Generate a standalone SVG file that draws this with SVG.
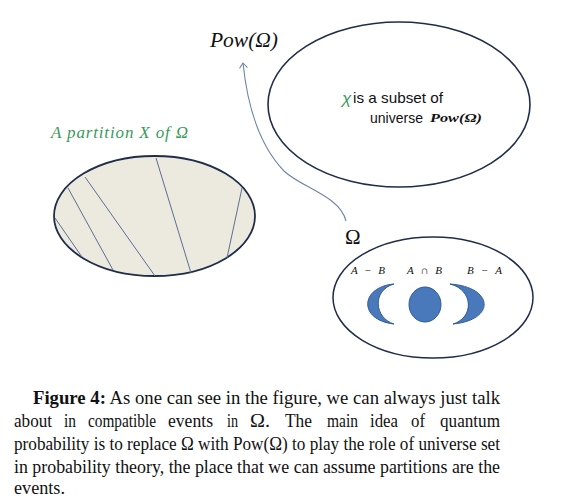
<svg xmlns="http://www.w3.org/2000/svg" width="584" height="500" viewBox="0 0 584 500">
<defs>
<style>
.ser{font-family:"Liberation Serif","Times New Roman",serif;fill:#111}
.sans{font-family:"Liberation Sans",Arial,sans-serif;fill:#111}
.green{fill:#3a9a5c}
.cap{font-family:"Liberation Serif","Times New Roman",serif;font-size:19px;fill:#111}
.part{stroke:#5b6f95;stroke-width:1;fill:none}
.blob{fill:#4a79bb;stroke:#2e5b9b;stroke-width:1}
</style>
<marker id="arr" markerWidth="10" markerHeight="10" refX="9" refY="5" orient="auto" markerUnits="userSpaceOnUse" viewBox="0 0 10 10">
<path d="M4,1 L9,5 L4,9" fill="none" stroke="#6d84a8" stroke-width="1"/>
</marker>
</defs>
<rect width="584" height="500" fill="#fff"/>

<g id="pow-label"><text class="ser" x="210" y="47" font-size="20" font-style="italic" textLength="68" lengthAdjust="spacingAndGlyphs">Pow(Ω)</text></g>

<g id="pow-ellipse">
<ellipse cx="399" cy="104.5" rx="131" ry="82.5" fill="#fff" stroke="#1f2d4a" stroke-width="1.6"/>
<text class="sans green" x="342" y="104" font-size="17" font-style="italic">χ</text>
<text class="sans" x="353" y="103" font-size="15" textLength="90" lengthAdjust="spacingAndGlyphs">is a subset of</text>
<text class="sans" x="370" y="123" font-size="15" textLength="53" lengthAdjust="spacingAndGlyphs">universe</text>
<text class="ser" x="430" y="122" font-size="11.5" font-style="italic" font-weight="bold" textLength="52" lengthAdjust="spacingAndGlyphs">Pow(Ω)</text>
</g>

<g id="partition">
<text class="ser green" x="51" y="138" font-size="17" font-style="italic" textLength="137" lengthAdjust="spacing">A partition X of Ω</text>
<ellipse cx="154.5" cy="216" rx="100.5" ry="60" fill="#ece9df" stroke="#1f2d4a" stroke-width="1.8"/>
<path class="part" d="M55,218 L82,257"/>
<path class="part" d="M68,188 L113,270"/>
<path class="part" d="M85,177 L155,276"/>
<path class="part" d="M156,158 L191,273"/>
<path class="part" d="M242,188 L227,258"/>
</g>

<g id="omega">
<text class="ser" x="345" y="244" font-size="21">Ω</text>
<ellipse cx="433" cy="297.5" rx="100" ry="60.5" fill="#fff" stroke="#1f2d4a" stroke-width="1.5"/>
<text class="ser" x="351" y="274" font-size="11" font-style="italic" textLength="34" lengthAdjust="spacing">A − B</text>
<text class="ser" x="407" y="274" font-size="11" font-style="italic" textLength="35" lengthAdjust="spacing">A ∩ B</text>
<text class="ser" x="467" y="274" font-size="11" font-style="italic" textLength="35" lengthAdjust="spacing">B − A</text>
<path class="blob" d="M394,284 C360,287 358,320 394,324 C374,318 372,290 394,284 Z"/>
<ellipse class="blob" cx="425" cy="304.5" rx="16" ry="17.5"/>
<path class="blob" d="M450,284 C494,287 496,320 453,324 C474,318 474,290 450,284 Z"/>
</g>

<g id="connectors">
<path d="M346,221 C340,196 302,188 284,171 C262,148 248,112 243,63" fill="none" stroke="#6d84a8" stroke-width="1.1" marker-end="url(#arr)"/>
</g>

<g id="caption">
<text class="cap" x="33" y="404" textLength="467" lengthAdjust="spacingAndGlyphs"><tspan font-weight="bold">Figure 4:</tspan> As one can see in the figure, we can always just talk</text>
<text class="cap" x="14" y="427" textLength="38" lengthAdjust="spacingAndGlyphs">about</text>
<text class="cap" x="64" y="427" textLength="12" lengthAdjust="spacingAndGlyphs">in</text>
<text class="cap" x="88" y="427" textLength="68" lengthAdjust="spacingAndGlyphs">compatible</text>
<text class="cap" x="168" y="427" textLength="45" lengthAdjust="spacingAndGlyphs">events</text>
<text class="cap" x="227" y="427" textLength="11" lengthAdjust="spacingAndGlyphs">in</text>
<text class="cap" x="250" y="427" textLength="20" lengthAdjust="spacingAndGlyphs">Ω.</text>
<text class="cap" x="285" y="427" textLength="27" lengthAdjust="spacingAndGlyphs">The</text>
<text class="cap" x="327" y="427" textLength="31" lengthAdjust="spacingAndGlyphs">main</text>
<text class="cap" x="370" y="427" textLength="28" lengthAdjust="spacingAndGlyphs">idea</text>
<text class="cap" x="411" y="427" textLength="14" lengthAdjust="spacingAndGlyphs">of</text>
<text class="cap" x="440" y="427" textLength="60" lengthAdjust="spacingAndGlyphs">quantum</text>
<text class="cap" x="14" y="450" textLength="486" lengthAdjust="spacingAndGlyphs">probability is to replace Ω with Pow(Ω) to play the role of universe set</text>
<text class="cap" x="14" y="473" textLength="486" lengthAdjust="spacingAndGlyphs">in probability theory, the place that we can assume partitions are the</text>
<text class="cap" x="14" y="494" textLength="51" lengthAdjust="spacingAndGlyphs">events.</text>
</g>
</svg>
